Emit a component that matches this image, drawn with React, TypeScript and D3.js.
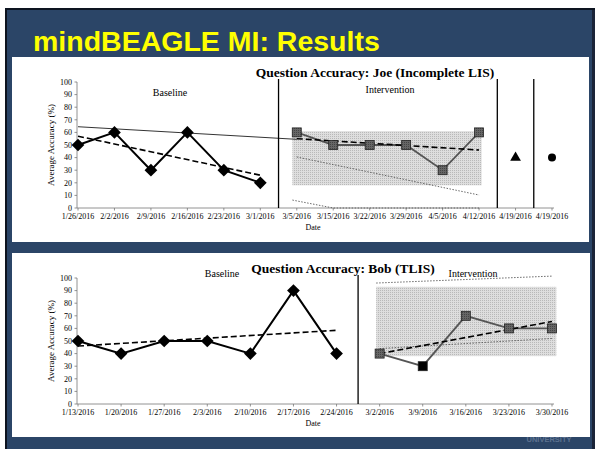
import React from "react";
import * as d3 from "d3";

// Joe (Incomplete LIS)
const joeDates = ["1/26/2016", "2/2/2016", "2/9/2016", "2/16/2016", "2/23/2016", "3/1/2016", "3/5/2016", "3/15/2016", "3/22/2016", "3/29/2016", "4/5/2016", "4/12/2016", "4/19/2016", "4/19/2016"];
const joeBaseline = [50, 60, 30, 60, 30, 20];
const joeIntervention = [60, 50, 50, 50, 30, 60];
const joeTriangle = 40;
const joeCircle = 40;
const joeBaseTrend = [[0, 57], [5, 26]];
const joeLevelLine = [[0, 64.5], [6, 54.5]];
const joeIntTrend = [[6, 55], [11, 46]];
const joeDotUpper = [[6, 40.5], [11, 10.3]];
const joeDotLower = [[5.88, 6.3], [7, 0], [11, 0]];
const joeBand = { x0: 5.88, x1: 11.07, y0: 18, y1: 61 };
const joePhases = [5.5, 11.5, 12.5];

// Bob (TLIS)
const bobDates = ["1/13/2016", "1/20/2016", "1/27/2016", "2/3/2016", "2/10/2016", "2/17/2016", "2/24/2016", "3/2/2016", "3/9/2016", "3/16/2016", "3/23/2016", "3/30/2016"];
const bobBaseline = [50, 40, 50, 50, 40, 90, 40];
const bobIntervention = [40, 30, 70, 60, 60];
const bobBaseTrend = [[0, 46], [6, 58.5]];
const bobIntTrend = [[7, 40], [11, 65.5]];
const bobDotUpper = [[6.92, 96], [11, 101.5]];
const bobDotLower = [[7, 44], [11, 52]];
const bobBand = { x0: 6.92, x1: 11.1, y0: 38, y1: 93 };
const bobPhases = [6.5];

const yTicks = d3.range(0, 101, 10);
const serif = "'Liberation Serif', 'Times New Roman', serif";

const Panel = ({ top, title, titleX, dates, baseline, intervention, blackSquares, baseTrend, levelLine, intTrend, dotUpper, dotLower, band, phases, baseLabelX, baseLabelY, intLabelX, intLabelY, extra }: any) => {
  const x = d3.scaleLinear().domain([0, dates.length - 1]).range([78, 552]);
  const y = d3.scaleLinear().domain([0, 100]).range([top + 151, top + 25]);
  const line = d3.line<any>().x((d) => x(d[0])).y((d) => y(d[1]));
  const baseData = baseline.map((v: number, i: number) => [i, v]);
  const intData = intervention.map((v: number, i: number) => [i + baseline.length, v]);
  const yTop = y(100);
  const yBot = y(0);
  return (
    <g fontFamily={serif}>
      <text x={titleX} y={top + 20} textAnchor="middle" fontSize={13.5} fontWeight="bold">{title}</text>
      {/* shaded band */}
      <rect x={x(band.x0)} y={y(band.y1)} width={x(band.x1) - x(band.x0)} height={y(band.y0) - y(band.y1)} fill="url(#dots)" />
      {/* axes */}
      <line x1={77} x2={77} y1={yTop} y2={yBot} stroke="#777" strokeWidth={0.8} />
      <line x1={77} x2={x(dates.length - 1) + 2} y1={yBot} y2={yBot} stroke="#777" strokeWidth={0.8} />
      {yTicks.map((t) => (
        <g key={t}>
          <line x1={74.5} x2={77} y1={y(t)} y2={y(t)} stroke="#777" strokeWidth={0.8} />
          <text x={72} y={y(t) + 2.8} textAnchor="end" fontSize={8}>{t}</text>
        </g>
      ))}
      {dates.map((d: string, i: number) => (
        <g key={i}>
          <line x1={x(i)} x2={x(i)} y1={yBot} y2={yBot + 2.5} stroke="#777" strokeWidth={0.8} />
          <text x={x(i)} y={yBot + 11} textAnchor="middle" fontSize={8}>{d}</text>
        </g>
      ))}
      <text x={313} y={yBot + 22} textAnchor="middle" fontSize={8}>Date</text>
      <text transform={`translate(54,${(yTop + yBot) / 2}) rotate(-90)`} textAnchor="middle" fontSize={9}>Average Accuracy (%)</text>
      {/* phase lines */}
      {phases.map((p: number, i: number) => (
        <line key={i} x1={x(p)} x2={x(p)} y1={yTop - 3} y2={yBot} stroke="#000" strokeWidth={1.3} />
      ))}
      <text x={baseLabelX} y={baseLabelY} textAnchor="middle" fontSize={10}>Baseline</text>
      <text x={intLabelX} y={intLabelY} textAnchor="middle" fontSize={10}>Intervention</text>
      {/* trend lines */}
      {levelLine && <path d={line(levelLine) || ""} fill="none" stroke="#000" strokeWidth={0.8} />}
      <path d={line(dotUpper) || ""} fill="none" stroke="#444" strokeWidth={0.8} strokeDasharray="1.5,1.5" />
      <path d={line(dotLower) || ""} fill="none" stroke="#444" strokeWidth={0.8} strokeDasharray="1.5,1.5" />
      {/* baseline series */}
      <path d={line(baseData) || ""} fill="none" stroke="#000" strokeWidth={2} />
      <path d={line(baseTrend) || ""} fill="none" stroke="#000" strokeWidth={1.6} strokeDasharray="6,3" />
      {baseData.map((d: number[], i: number) => (
        <rect key={i} x={x(d[0]) - 4.5} y={y(d[1]) - 4.5} width={9} height={9} fill="#000" transform={`rotate(45 ${x(d[0])} ${y(d[1])})`} />
      ))}
      {/* intervention series */}
      <path d={line(intData) || ""} fill="none" stroke="#555" strokeWidth={1.8} />
      <path d={line(intTrend) || ""} fill="none" stroke="#000" strokeWidth={1.6} strokeDasharray="6,3" />
      {intData.map((d: number[], i: number) => (
        <rect key={i} x={x(d[0]) - 4.5} y={y(d[1]) - 4.5} width={9} height={9}
          fill={blackSquares.includes(i) ? "#000" : "url(#sq)"} stroke="#222" strokeWidth={0.8} />
      ))}
      {extra && extra(x, y)}
    </g>
  );
};

const App = () => {
  return (
    <svg width={595} height={449} style={{ position: "absolute", left: 0, top: 0 }}>
      <defs>
        <pattern id="dots" width={2} height={2} patternUnits="userSpaceOnUse">
          <rect width={2} height={2} fill="#dedede" />
          <rect width={1} height={1} fill="#b9b9b9" />
        </pattern>
        <pattern id="sq" width={2} height={2} patternUnits="userSpaceOnUse">
          <rect width={2} height={2} fill="#666" />
          <rect width={1} height={1} fill="#444" />
        </pattern>
      </defs>
      <rect x={0} y={0} width={595} height={449} fill="#fff" />
      <rect x={5} y={8} width={590} height={441} fill="#0d1420" />
      <rect x={7} y={10} width={585} height={439} fill="#2b4567" />
      <rect x={592} y={10} width={3} height={439} fill="#1a2438" />
      <text x={33} y={51} fontFamily="'Liberation Sans', Arial, sans-serif" fontWeight="bold" fontSize={28.5} fill="#ffff00">mindBEAGLE MI: Results</text>
      <rect x={12} y={57} width={577} height={185} fill="#fff" />
      <rect x={12} y={253} width={578} height={184} fill="#fff" />
      <text x={549} y={442} textAnchor="middle" fontFamily="'Liberation Sans', Arial, sans-serif" fontSize={7.5} fontWeight="bold" fill="#5d7290">UNIVERSITY</text>
      <Panel top={57} title="Question Accuracy: Joe (Incomplete LIS)" titleX={375}
        dates={joeDates} baseline={joeBaseline} intervention={joeIntervention} blackSquares={[]}
        baseTrend={joeBaseTrend} levelLine={joeLevelLine} intTrend={joeIntTrend}
        dotUpper={joeDotUpper} dotLower={joeDotLower} band={joeBand} phases={joePhases}
        baseLabelX={170} baseLabelY={96} intLabelX={390} intLabelY={93}
        extra={(x: any, y: any) => (
          <g>
            <path d={d3.symbol(d3.symbolTriangle, 50)() || ""} transform={`translate(${x(12)},${y(joeTriangle)})`} fill="#000" />
            <circle cx={x(13)} cy={y(joeCircle)} r={4} fill="#000" />
          </g>
        )} />
      <Panel top={253} title="Question Accuracy: Bob (TLIS)" titleX={343}
        dates={bobDates} baseline={bobBaseline} intervention={bobIntervention} blackSquares={[1]}
        baseTrend={bobBaseTrend} levelLine={null} intTrend={bobIntTrend}
        dotUpper={bobDotUpper} dotLower={bobDotLower} band={bobBand} phases={bobPhases}
        baseLabelX={222} baseLabelY={277} intLabelX={473} intLabelY={277} />
    </svg>
  );
};

export default App;
